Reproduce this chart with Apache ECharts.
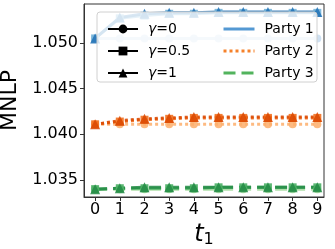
<!DOCTYPE html>
<html><head><meta charset="utf-8">
<script src="https://cdn.jsdelivr.net/npm/echarts@6/dist/echarts.min.js"></script>
<style>html,body{margin:0;padding:0;background:#fff}#c{width:335px;height:249px}</style>
</head><body><div id="c"></div>
<script>
const xTicks = [0,1,2,3,4,5,6,7,8,9];
const yTicks = [1.035, 1.040, 1.045, 1.050];
const gammaNames = ['γ=0', 'γ=0.5', 'γ=1'];
const partyNames = ['Party 1', 'Party 2', 'Party 3'];
// Party 1
const p1g0  = [1.0505,1.0505,1.0505,1.0505,1.0505,1.0505,1.0505,1.0505,1.0505,1.0505];
const p1g05 = [1.0505,1.0527,1.0530,1.0532,1.0532,1.0533,1.0533,1.0533,1.0533,1.0533];
const p1g1  = [1.0505,1.0528,1.0532,1.0533,1.0533,1.0534,1.0534,1.0534,1.0534,1.0534];
// Party 2
const p2g0  = [1.0411,1.0411,1.0411,1.0411,1.0411,1.0411,1.0411,1.0411,1.0411,1.0411];
const p2g05 = [1.0411,1.0414,1.0416,1.0417,1.0418,1.0418,1.0418,1.0418,1.0418,1.0418];
const p2g1  = [1.0411,1.0415,1.0417,1.0418,1.0419,1.0419,1.0419,1.0419,1.0419,1.0419];
// Party 3
const p3g0  = [1.0340,1.0340,1.0340,1.0340,1.0340,1.0340,1.0340,1.0340,1.0340,1.0340];
const p3g05 = [1.0340,1.0341,1.0341,1.0341,1.0341,1.0342,1.0342,1.0342,1.0342,1.0342];
const p3g1  = [1.0340,1.0341,1.0342,1.0342,1.0342,1.0342,1.0342,1.0342,1.0342,1.0342];

const partyData = [[p1g0,p1g05,p1g1],[p2g0,p2g05,p2g1],[p3g0,p3g05,p3g1]];
const shades = [
  ['#c6dbef','#6baed6','#2171b5'],
  ['#fdae6b','#f16913','#d94801'],
  ['#a1d99b','#41ab5d','#238b45']
];
const partyColors = ['#5499d3','#f5812b','#52b35d'];
const lineTypes = ['solid','dotted','dashed'];
const symbols = ['circle','rect','triangle'];
const symSizes = [8,8,10];

const series = [];
partyData.forEach((pd, p) => {
  pd.forEach((vals, g) => {
    series.push({
      type: 'line', name: 'P'+p+'G'+g,
      data: vals.map((v,i)=>[xTicks[i], v]),
      symbol: symbols[g], symbolSize: symSizes[g], showSymbol: true,
      itemStyle: {color: shades[p][g], opacity: 0.85},
      lineStyle: {color: shades[p][g], width: 3, type: lineTypes[p], opacity: 0.85},
      z: 2, silent: true, animation: false
    });
  });
});
gammaNames.forEach((n, g) => {
  series.push({type:'line', name:n, data:[], symbol:symbols[g], symbolSize:8,
    itemStyle:{color:'#000'}, lineStyle:{color:'#000', width:2}});
});
partyNames.forEach((n, p) => {
  series.push({type:'line', name:n, data:[], symbol:'none',
    itemStyle:{color:partyColors[p]}, lineStyle:{color:partyColors[p], width:3, type:lineTypes[p]}});
});

const font = 'DejaVu Sans';
const chart = echarts.init(document.getElementById('c'), null, {renderer:'canvas'});
chart.setOption({
  animation: false,
  backgroundColor: '#fff',
  grid: {left:84, right:11, top:4, bottom:52, show:true, borderColor:'#333', borderWidth:1,
         containLabel:false, outerBoundsMode:'none'},
  xAxis: {
    type:'value', min:-0.45, max:9.27,
    axisLine:{show:true, onZero:false, lineStyle:{color:'#333'}},
    axisTick:{show:true, length:4, lineStyle:{color:'#333'}, customValues:xTicks},
    axisLabel:{fontSize:16, fontFamily:font, color:'#000', margin:5, customValues:xTicks},
    splitLine:{show:false},
    name:'{i|t}{s|1}', nameLocation:'middle', nameGap:24,
    nameTextStyle:{rich:{i:{fontSize:24, fontStyle:'italic', fontFamily:font, color:'#000'},
                         s:{fontSize:16, fontFamily:font, color:'#000', padding:[10,0,0,0]}}}
  },
  yAxis: {
    type:'value', min:1.03314, max:1.05427,
    axisLine:{show:true, onZero:false, lineStyle:{color:'#333'}},
    axisTick:{show:true, length:4, lineStyle:{color:'#333'}, customValues:yTicks},
    axisLabel:{fontSize:16, fontFamily:font, color:'#000', margin:6, customValues:yTicks,
      formatter: v => v.toFixed(3)},
    splitLine:{show:false},
    name:'MNLP', nameLocation:'middle', nameGap:56,
    nameTextStyle:{fontSize:22, fontFamily:font, color:'#000'}
  },
  graphic: [{type:'rect', z:50, shape:{x:97, y:12, width:220, height:70, r:3},
    style:{fill:'rgba(255,255,255,0.8)', stroke:'#d0d0d0', lineWidth:1}}],
  legend: [
    {data:gammaNames, orient:'vertical', left:102, top:17, itemWidth:30, itemHeight:11, itemGap:8, z:60,
     textStyle:{fontSize:14, fontFamily:font, color:'#000', lineHeight:14, padding:[0,0,0,5],
       rich:{i:{fontSize:14, fontStyle:'italic', fontFamily:font, color:'#000'}}},
     formatter: n => '{i|γ}' + n.slice(1), selectedMode:false},
    {data:partyNames.map((n, p) => ({name:n, itemStyle:{opacity:0},
        lineStyle:{width:3, color:partyColors[p], type:lineTypes[p]}})),
     orient:'vertical', left:217, top:17, itemWidth:31, itemHeight:11, itemGap:8, z:60,
     textStyle:{fontSize:14, fontFamily:font, color:'#000', lineHeight:14, padding:[0,0,0,5]},
     selectedMode:false}
  ],
  series: series
});
</script></body></html>
